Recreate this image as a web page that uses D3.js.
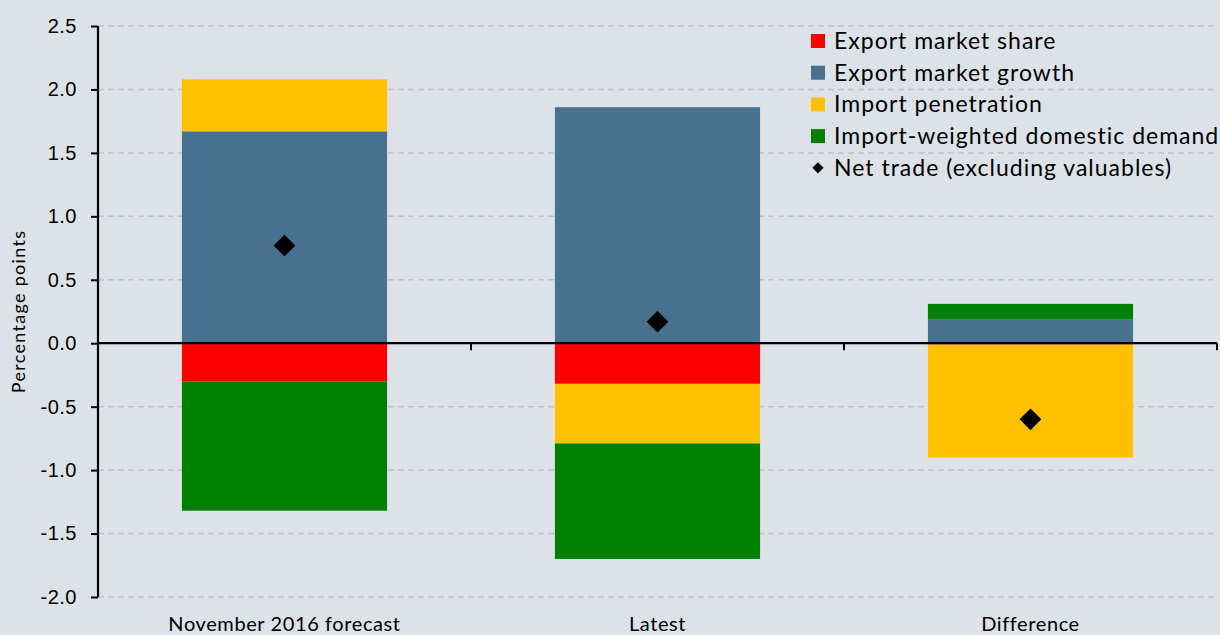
<!DOCTYPE html>
<html>
<head>
<meta charset="utf-8">
<script src="https://cdn.jsdelivr.net/npm/d3@7"></script>
<style>
	body { margin: 0; background: #dce2e8; }
	svg { display: block; font-family: "Lato", "Liberation Sans", sans-serif; }
</style>
</head>
<body>
<svg id="svg_chart" width="1220" height="635"></svg>
<script>
// chart data
var categories = ["November 2016 forecast", "Latest", "Difference"];
var seriesNames = ["Export market share", "Export market growth", "Import penetration", "Import-weighted domestic demand"];
var exportMarketShare = [-0.30, -0.32, -0.01];
var exportMarketGrowth = [1.67, 1.86, 0.19];
var importPenetration = [0.41, -0.47, -0.89];
var importWeightedDemand = [-1.02, -0.91, 0.12];
var netTrade = [0.77, 0.17, -0.60];
var netTradeName = "Net trade (excluding valuables)";
var yTicks = [-2.0, -1.5, -1.0, -0.5, 0.0, 0.5, 1.0, 1.5, 2.0, 2.5];

var colors = ["#ff0000", "#47718f", "#ffc000", "#008000"];

function renderChart() {
	var svg = d3.select("#svg_chart"),
		width = +svg.attr("width"),
		height = +svg.attr("height"),
		margin = { top: 26, right: 3, bottom: 38, left: 98 };

	var rows = categories.map(function(c, i) {
		return {
			"cat": c,
			"s0": exportMarketShare[i],
			"s1": exportMarketGrowth[i],
			"s2": importPenetration[i],
			"s3": importWeightedDemand[i]
		};
	});

	var x = d3.scaleBand()
		.domain(categories)
		.range([margin.left, width - margin.right])
		.paddingInner(0.45)
		.paddingOuter(0.225);
	var xOuter = d3.scaleBand()
		.domain(categories)
		.range([margin.left, width - margin.right]);
	var y = d3.scaleLinear()
		.domain([-2.0, 2.5])
		.range([height - margin.bottom, margin.top]);

	// gridlines
	svg.append("g").selectAll("line")
		.data(yTicks.filter(function(d) { return d != 0; }))
		.enter().append("line")
		.attr("x1", margin.left)
		.attr("x2", width - margin.right)
		.attr("y1", function(d) { return y(d); })
		.attr("y2", function(d) { return y(d); })
		.attr("stroke", "#c0c0c0")
		.attr("stroke-width", 1.5)
		.attr("stroke-dasharray", "6,4");

	// stacked bars
	var stack = d3.stack()
		.keys(["s0", "s1", "s2", "s3"])
		.offset(d3.stackOffsetDiverging);
	var layers = stack(rows);

	svg.append("g").selectAll("g")
		.data(layers)
		.enter().append("g")
		.attr("fill", function(d, i) { return colors[i]; })
		.selectAll("rect")
		.data(function(d) { return d; })
		.enter().append("rect")
		.attr("x", function(d) { return x(d.data.cat); })
		.attr("width", x.bandwidth())
		.attr("y", function(d) { return y(Math.max(d[0], d[1])); })
		.attr("height", function(d) { return Math.abs(y(d[0]) - y(d[1])); });

	// y axis
	var yAxis = d3.axisLeft(y)
		.tickValues(yTicks)
		.tickFormat(d3.format(".1f"))
		.tickSize(7)
		.tickPadding(14);
	var gy = svg.append("g")
		.attr("transform", "translate(" + margin.left + ",0)")
		.call(yAxis);
	gy.select(".domain").attr("stroke", "#000").attr("stroke-width", 2.2)
		.attr("d", "M0," + y(-2.0) + "V" + y(2.5));
	gy.selectAll(".tick line").attr("stroke", "#000").attr("stroke-width", 2);
	gy.selectAll(".tick text")
		.attr("font-size", 20)
		.attr("letter-spacing", 0.5)
		.attr("fill", "#000")
		.text(function(d) { return d3.format(".1f")(d).replace("−", "-"); });

	// zero line with category ticks
	var zero = y(0);
	svg.append("line")
		.attr("x1", margin.left)
		.attr("x2", width - margin.right)
		.attr("y1", zero)
		.attr("y2", zero)
		.attr("stroke", "#000")
		.attr("stroke-width", 2.2);
	svg.append("g").selectAll("line")
		.data(categories)
		.enter().append("line")
		.attr("x1", function(d) { return xOuter(d) + xOuter.bandwidth(); })
		.attr("x2", function(d) { return xOuter(d) + xOuter.bandwidth(); })
		.attr("y1", zero)
		.attr("y2", zero + 7)
		.attr("stroke", "#000")
		.attr("stroke-width", 2);

	// category labels
	svg.append("g").selectAll("text")
		.data(categories)
		.enter().append("text")
		.attr("x", function(d) { return xOuter(d) + xOuter.bandwidth() / 2; })
		.attr("y", height - 4)
		.attr("text-anchor", "middle")
		.attr("font-size", 20)
		.attr("letter-spacing", 0.6)
		.text(function(d) { return d; });

	// net trade diamonds
	var diamond = d3.symbol().type(d3.symbolDiamond2).size(300);
	svg.append("g").selectAll("path")
		.data(categories)
		.enter().append("path")
		.attr("d", diamond)
		.attr("transform", function(d, i) {
			return "translate(" + (x(d) + x.bandwidth() / 2) + "," + y(netTrade[i]) + ")";
		})
		.attr("fill", "#000");

	// y label
	svg.append("text")
		.attr("transform", "translate(25," + (y(0.25)) + ") rotate(-90)")
		.attr("text-anchor", "middle")
		.attr("font-size", 18)
		.attr("letter-spacing", 1.3)
		.text("Percentage points");

	// legend
	var legend = svg.append("g").attr("transform", "translate(811,41)");
	var items = seriesNames.concat([netTradeName]);
	var li = legend.selectAll("g").data(items)
		.enter().append("g")
		.attr("transform", function(d, i) { return "translate(0," + (i * 31.7) + ")"; });
	li.each(function(d, i) {
		var g = d3.select(this);
		if (i < 4) {
			g.append("rect").attr("x", 0).attr("y", -7).attr("width", 14).attr("height", 14)
				.attr("fill", colors[i]);
		} else {
			g.append("path").attr("d", d3.symbol().type(d3.symbolDiamond2).size(80))
				.attr("transform", "translate(7,0)").attr("fill", "#000");
		}
		g.append("text").attr("x", 23).attr("y", 0).attr("dy", "0.35em")
			.attr("font-size", 23)
			.attr("letter-spacing", 1)
			.text(d);
	});
}

renderChart();
</script>
</body>
</html>
